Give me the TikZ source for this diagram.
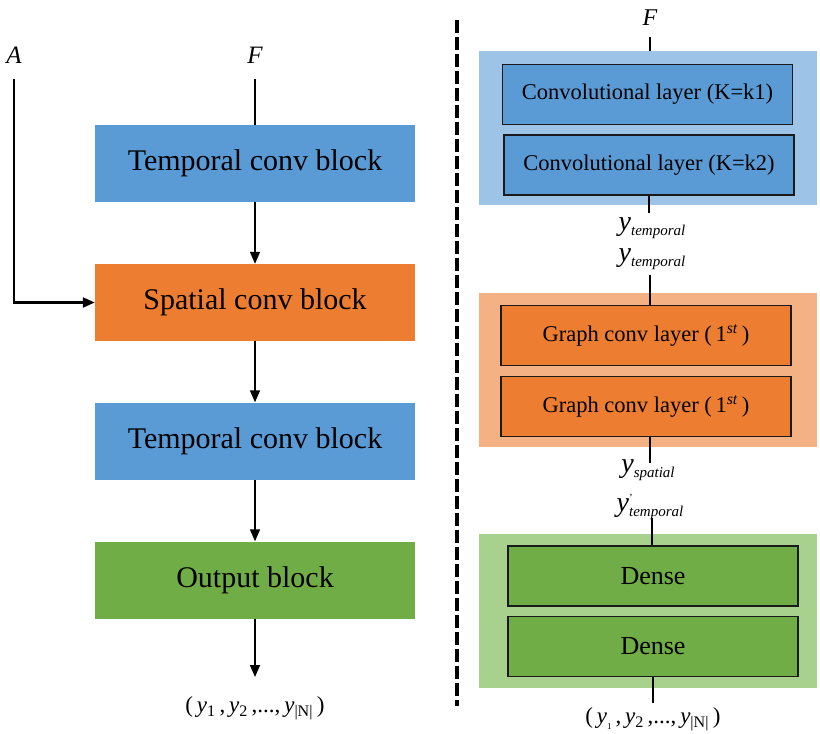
\documentclass[tikz,border=0pt]{standalone}
\usepackage{fontspec}
\setmainfont{Liberation Serif}
\usetikzlibrary{arrows.meta}
\definecolor{cblue}{HTML}{5B9BD5}
\definecolor{corange}{HTML}{ED7D31}
\definecolor{cgreen}{HTML}{70AD47}
\definecolor{lblue}{HTML}{9DC3E6}
\definecolor{lorange}{HTML}{F4B183}
\definecolor{lgreen}{HTML}{A9D18E}
\definecolor{edge}{HTML}{1A1A1A}
\newcommand{\ysubx}[1]{{\fontsize{28}{28}\selectfont\textit{y}}\raisebox{-5pt}{\fontsize{15}{15}\selectfont\textit{#1}}}
\newcommand{\ytprime}{{\fontsize{28}{28}\selectfont\textit{y}}\rlap{\raisebox{10pt}{\fontsize{11}{11}\selectfont'}}\raisebox{-5pt}{\fontsize{15}{15}\selectfont\textit{temporal}}}
\begin{document}
\begin{tikzpicture}[x=1pt,y=-1pt,
  lblock/.style={inner sep=0pt, minimum width=320pt, minimum height=77pt, font=\fontsize{30}{33}\selectfont},
  outer/.style={inner sep=0pt, minimum width=338pt, minimum height=154pt},
  inner/.style={draw=edge, line width=1.8pt, inner sep=0pt, minimum width=290pt, minimum height=60pt, font=\fontsize{22.5}{25}\selectfont},
  arr/.style={-{Triangle[length=12pt,width=10pt]}, line width=1.6pt},
  conn/.style={line width=1.8pt},
  lab/.style={inner sep=0pt, font=\fontsize{25}{28}\selectfont\itshape},
  outlab/.style={inner sep=0pt, font=\fontsize{23}{26}\selectfont}]
\useasboundingbox (0,0) rectangle (820,734);

% ---------- left ----------
\node[lab] (A) at (14,55) {A};
\node[lab] (F) at (255,55) {F};
\coordinate (atop) at (14,79);
\coordinate (ftop) at (255,79);
\node[lblock, fill=cblue] (t1) at (255,163.5) {Temporal conv block};
\node[lblock, fill=corange] (s) at (255,302.5) {Spatial conv block};
\node[lblock, fill=cblue] (t2) at (255,441) {Temporal conv block};
\node[lblock, fill=cgreen] (o) at (255,580) {Output block};
\coordinate (oend) at (255,677);
\node[outlab] (yl) at (255,708) {(\,\textit{y}\textsubscript{1}\,,\,\textit{y}\textsubscript{2}\,,...,\,\textit{y}\textsubscript{|N|}\,)};

\draw[conn, line width=2.2pt] (ftop) -- (t1.north);
\draw[arr, line width=2.2pt] (atop) |- (s.west);
\draw[arr] (t1.south) -- (s.north);
\draw[arr] (s.south) -- (t2.north);
\draw[arr] (t2.south) -- (o.north);
\draw[arr] (o.south) -- (oend);

% ---------- divider ----------
\coordinate (dtop) at (457,20);
\coordinate (dbot) at (457,706);
\draw[line width=4pt, dash pattern=on 13pt off 4pt] (dtop) -- (dbot);

% ---------- right ----------
\node[lab, font=\fontsize{24}{26}\selectfont\itshape] (F2) at (650,18) {F};
\coordinate (f2end) at (650,37);

\node[outer, fill=lblue] (ob) at (648,128) {};
\node[inner, fill=cblue] (c1) at (647.5,94.5) {Convolutional layer (K=k1)};
\node[inner, fill=cblue] (c2) at (649,165) {Convolutional layer (K=k2)};
\coordinate (c2end) at (649,213);
\node[inner sep=0pt] (yt1) at (652,228) {\ysubx{temporal}};
\node[inner sep=0pt] (yt2) at (652,259) {\ysubx{temporal}};
\coordinate (yt2end) at (650,275);

\node[outer, fill=lorange] (oo) at (648,369.5) {};
\node[inner, fill=corange] (g1) at (646,335.5) {Graph conv layer (\,1\textsuperscript{\textit{st}}\,)};
\node[inner, fill=corange] (g2) at (646,406.5) {Graph conv layer (\,1\textsuperscript{\textit{st}}\,)};
\coordinate (g2end) at (650,463);
\node[inner sep=0pt] (ys) at (648,470) {\ysubx{spatial}};
\node[inner sep=0pt] (ytp) at (650,507) {\ytprime};
\coordinate (ytpend) at (652,518);

\node[outer, fill=lgreen] (og) at (648,610.5) {};
\node[inner, fill=cgreen, font=\fontsize{26}{28}\selectfont] (d1) at (653,576) {Dense};
\node[inner, fill=cgreen, font=\fontsize{26}{28}\selectfont] (d2) at (653,646.5) {Dense};
\coordinate (d2end) at (653,703);
\node[outlab] (yr) at (653,719) {(\,\textit{y}\raisebox{-6pt}{\fontsize{9}{9}\selectfont 1}\,,\,\textit{y}\textsubscript{2}\,,...,\,\textit{y}\textsubscript{|N|}\,)};

\draw[conn] (f2end) -- (ob.north -| f2end);
\draw[conn] (c2.south -| c2end) -- (c2end);
\draw[conn] (yt2end) -- (g1.north -| yt2end);
\draw[conn] (g2.south -| g2end) -- (g2end);
\draw[conn] (ytpend) -- (d1.north -| ytpend);
\draw[conn] (d2.south) -- (d2end);
\end{tikzpicture}
\end{document}
